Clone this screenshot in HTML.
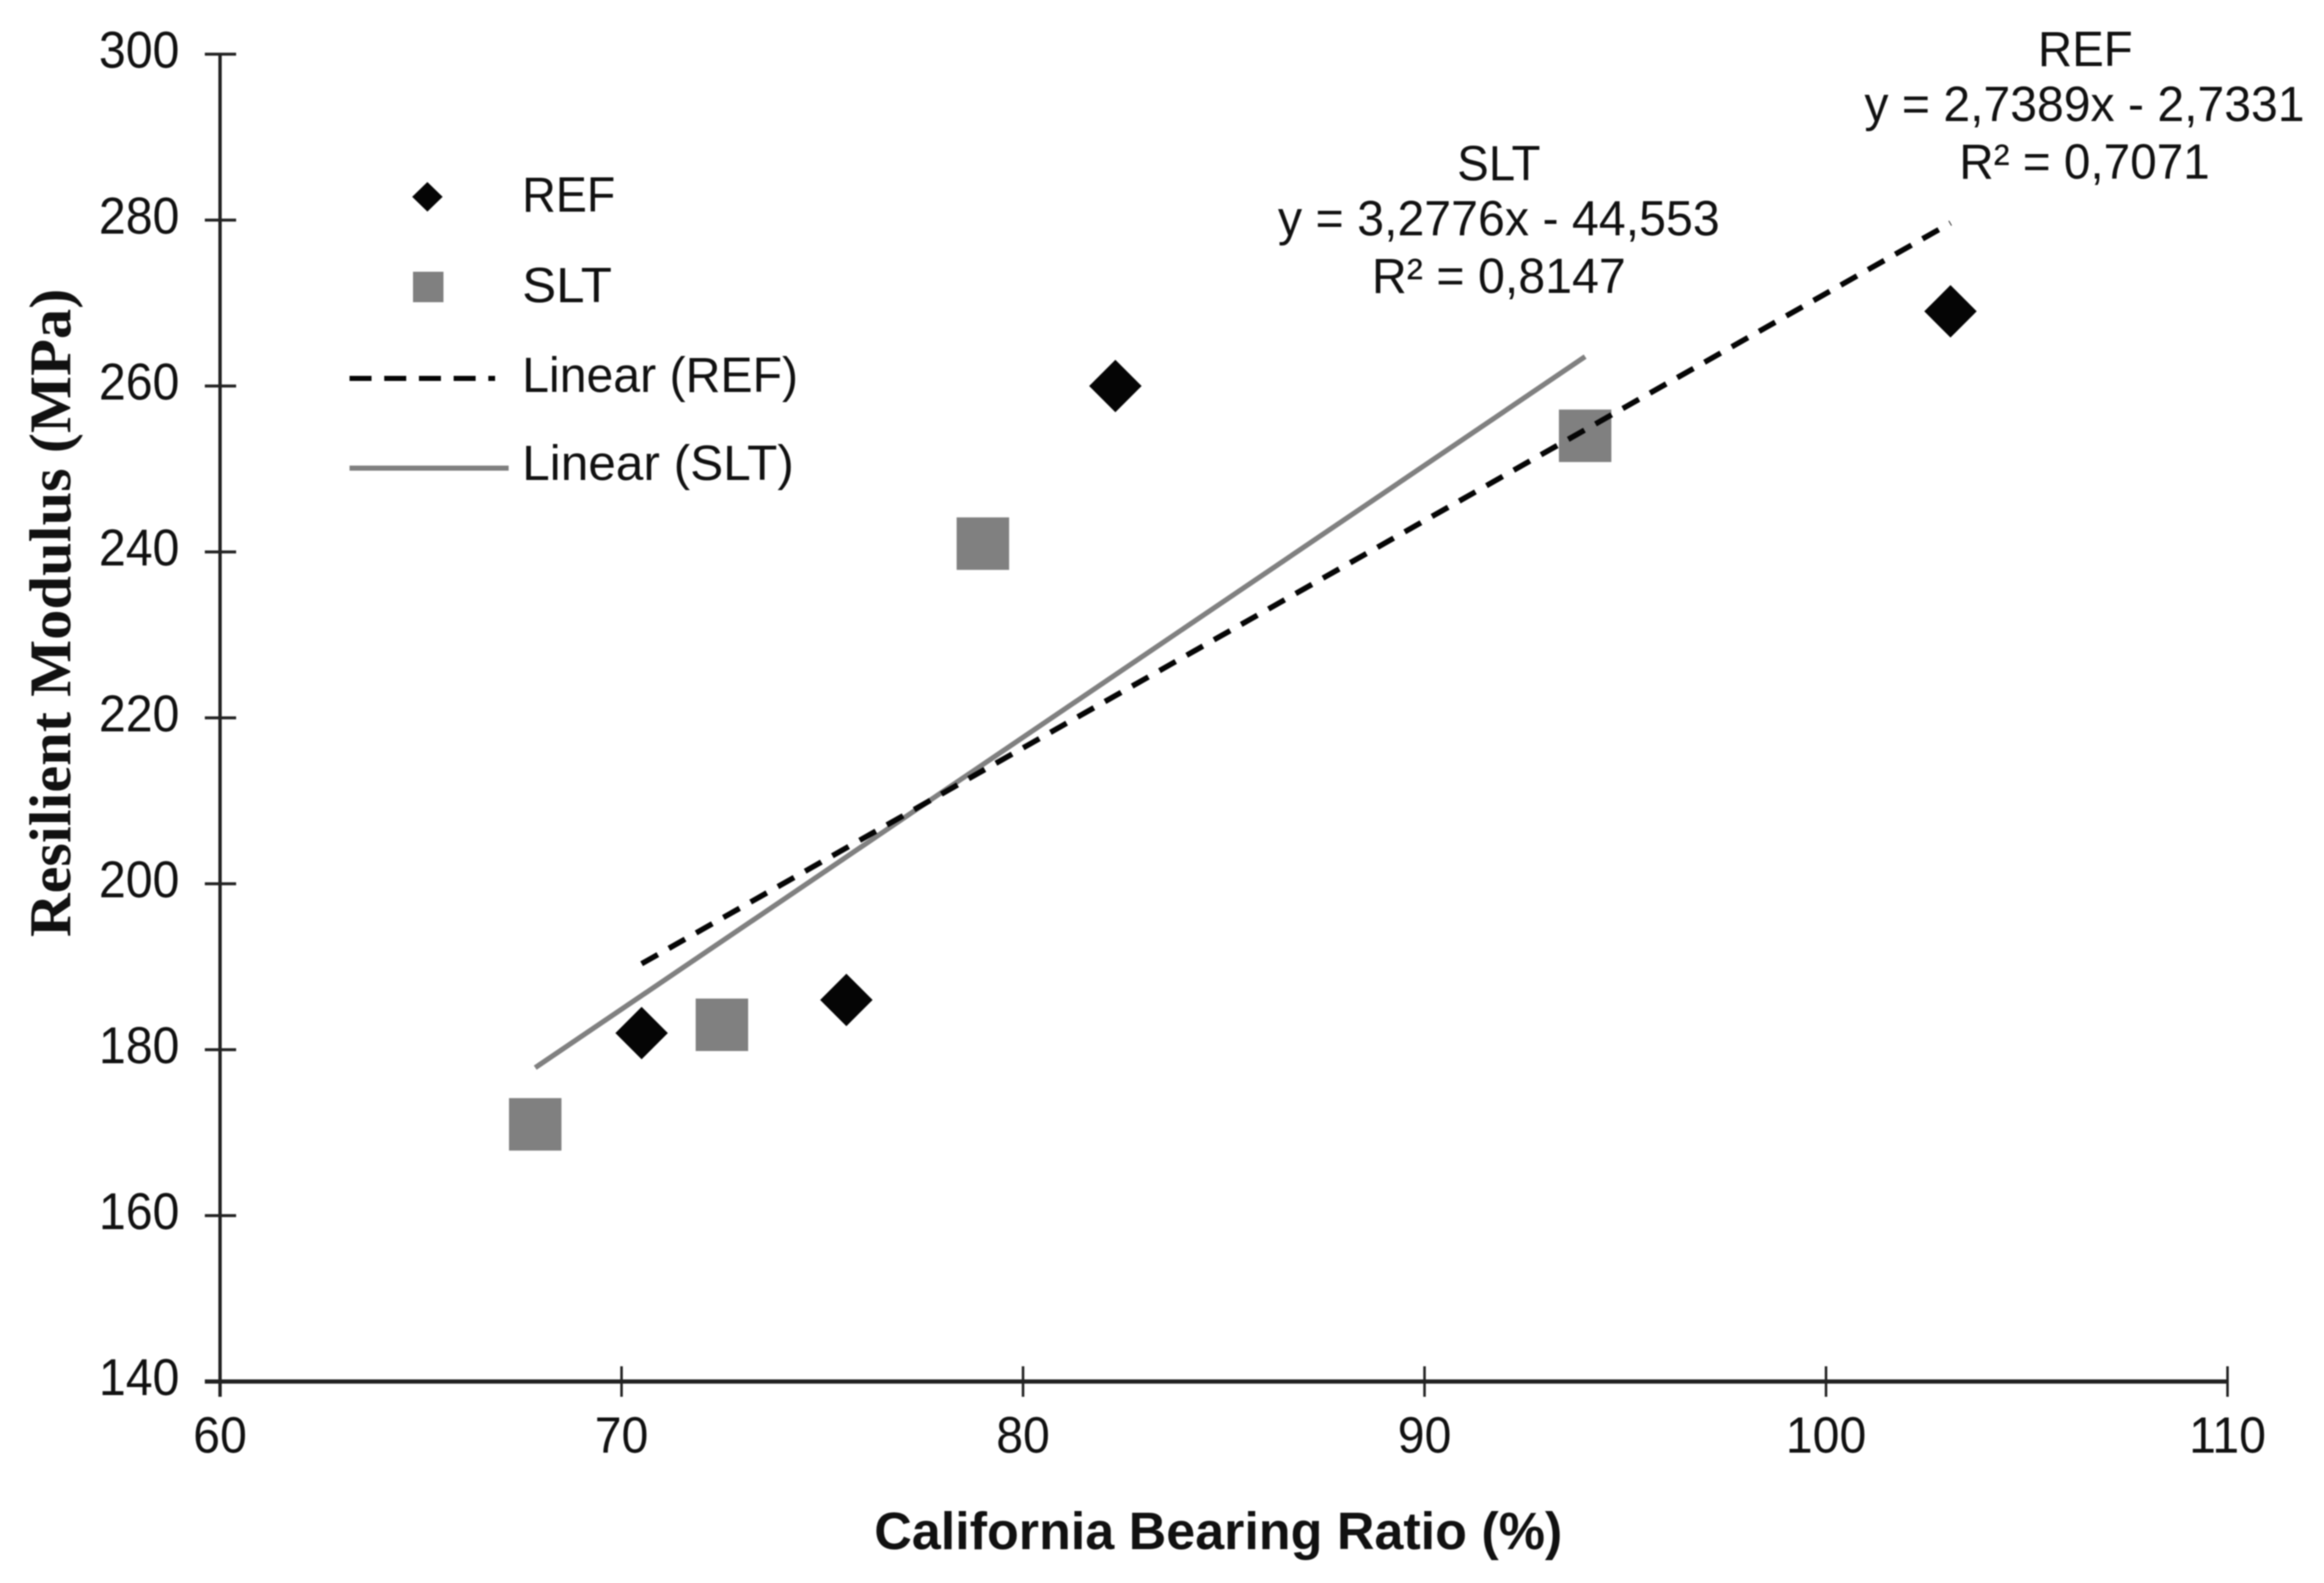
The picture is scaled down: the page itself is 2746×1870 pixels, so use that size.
<!DOCTYPE html>
<html>
<head>
<meta charset="utf-8">
<style>
html,body{margin:0;padding:0;background:#fff;width:2746px;height:1870px;overflow:hidden}
svg{display:block;filter:blur(0.8px)}
text{font-family:"Liberation Sans",sans-serif;fill:#111}
</style>
</head>
<body>
<svg id="chart" xmlns="http://www.w3.org/2000/svg" width="2746" height="1870" viewBox="0 0 2746 1870">
  <rect x="0" y="0" width="2746" height="1870" fill="#fff"/>
  <g id="axes"></g>
  <g id="marks"></g>
  <g id="trends"></g>

  <text transform="translate(83,1107) rotate(-90) scale(1,1.06)" textLength="766" lengthAdjust="spacingAndGlyphs" style="font-family:'Liberation Serif',serif;font-weight:bold;font-size:66px;fill:#111">Resilient Modulus (MPa)</text>
  <text x="1033" y="1830" textLength="813" lengthAdjust="spacingAndGlyphs" style="font-weight:bold;font-size:62px;fill:#111">California Bearing Ratio (%)</text>

  <g>
    <polygon points="505,215 523,232.5 505,250 487,232.5" fill="#050505"/>
    <rect x="488" y="321" width="36" height="36" fill="#808080"/>
    <line x1="413" y1="447" x2="585" y2="447" stroke="#050505" stroke-width="6" stroke-dasharray="26 15"/>
    <line x1="413" y1="553" x2="601" y2="553" stroke="#808080" stroke-width="6"/>
    <text transform="translate(617,250) scale(1,1.06)" textLength="110" lengthAdjust="spacingAndGlyphs" style="font-size:55px">REF</text>
    <text transform="translate(617,357) scale(1,1.06)" textLength="106" lengthAdjust="spacingAndGlyphs" style="font-size:55px">SLT</text>
    <text transform="translate(617,463) scale(1,1.06)" textLength="326" lengthAdjust="spacingAndGlyphs" style="font-size:55px">Linear (REF)</text>
    <text transform="translate(617,567) scale(1,1.06)" textLength="321" lengthAdjust="spacingAndGlyphs" style="font-size:55px">Linear (SLT)</text>
  </g>

  <g text-anchor="middle">
    <text transform="translate(1771,213) scale(1,1.04)" style="font-size:56px">SLT</text>
    <text transform="translate(1771,278) scale(1,1.04)" textLength="522" lengthAdjust="spacingAndGlyphs" style="font-size:56px">y = 3,2776x - 44,553</text>
    <text transform="translate(1771,346) scale(1,1.04)" textLength="300" lengthAdjust="spacingAndGlyphs" style="font-size:56px">R² = 0,8147</text>
  </g>
  <g text-anchor="middle">
    <text transform="translate(2464,78) scale(1,1.04)" style="font-size:56px">REF</text>
    <text transform="translate(2463,143) scale(1,1.04)" textLength="520" lengthAdjust="spacingAndGlyphs" style="font-size:56px">y = 2,7389x - 2,7331</text>
    <text transform="translate(2463,211) scale(1,1.04)" textLength="296" lengthAdjust="spacingAndGlyphs" style="font-size:56px">R² = 0,7071</text>
  </g>
</svg>
<script>
var xTicks = [60, 70, 80, 90, 100, 110];
var yTicks = [140, 160, 180, 200, 220, 240, 260, 280, 300];
var refX = [70.5, 75.6, 82.3, 103.1];
var refY = [182, 186, 260, 269];
var sltX = [67.85, 72.5, 79, 94];
var sltY = [171, 183, 241, 254];
var refTrend = [2.7389, -2.7331];
var sltTrend = [3.2776, -44.553];

var NS = 'http://www.w3.org/2000/svg';
function sx(v) { return 260 + (v - 60) * (2632 - 260) / (110 - 60); }
function sy(v) { return 1632 - (v - 140) * (1632 - 64) / (300 - 140); }
function make(parent, tag, attrs) {
  var el = document.createElementNS(NS, tag);
  for (var k in attrs) el.setAttribute(k, attrs[k]);
  parent.appendChild(el);
  return el;
}
var axes = document.getElementById('axes');
var trends = document.getElementById('trends');
var marks = document.getElementById('marks');

var yLine = make(axes, 'line', {x1: sx(60), y1: sy(300), x2: sx(60), y2: 1650, stroke: '#222', 'stroke-width': 4});


var xLine = make(axes, 'line', {x1: 242, y1: sy(140), x2: sx(110), y2: sy(140), stroke: '#222', 'stroke-width': 5});



yTicks.forEach(function (v) {
  var t = make(axes, 'line', {x1: 242, y1: sy(v), x2: 279, y2: sy(v), stroke: '#222', 'stroke-width': 3.5});
  
  
  var l = make(axes, 'text', {transform: 'translate(212,' + (sy(v) + 16) + ') scale(1,1.07)', 'text-anchor': 'end', style: 'font-size:57px'});
  
  
  l.textContent = String(v);
});
xTicks.forEach(function (v) {
  var t = make(axes, 'line', {x1: sx(v), y1: 1614, x2: sx(v), y2: 1650, stroke: '#222', 'stroke-width': 3});
  
  
  var l = make(axes, 'text', {transform: 'translate(' + sx(v) + ',1716) scale(1,1.06)', 'text-anchor': 'middle', style: 'font-size:57px'});
  
  
  l.textContent = String(v);
});

var D = 31;
sltX.forEach(function (x, i) {
  var r = make(marks, 'rect', {x: sx(x) - D, y: sy(sltY[i]) - D, width: 2 * D, height: 2 * D, fill: '#808080'});
  
  
});
refX.forEach(function (x, i) {
  var cx = sx(x), cy = sy(refY[i]);
  var p = make(marks, 'polygon', {points: cx + ',' + (cy - D) + ' ' + (cx + D) + ',' + cy + ' ' + cx + ',' + (cy + D) + ' ' + (cx - D) + ',' + cy, fill: '#050505'});
  
  
});

function trendPts(xs, c) {
  var lo = Math.min.apply(null, xs), hi = Math.max.apply(null, xs);
  return {x1: sx(lo), y1: sy(c[0] * lo + c[1]), x2: sx(hi), y2: sy(c[0] * hi + c[1])};
}
var a = trendPts(sltX, sltTrend);
a.stroke = '#808080';
a['stroke-width'] = 6;
var sltLine = make(trends, 'line', a);


var b = trendPts(refX, refTrend);
b.stroke = '#050505';
b['stroke-width'] = 6.5;
b['stroke-dasharray'] = '22 15';
var refLine = make(trends, 'line', b);


</script>
</body>
</html>
